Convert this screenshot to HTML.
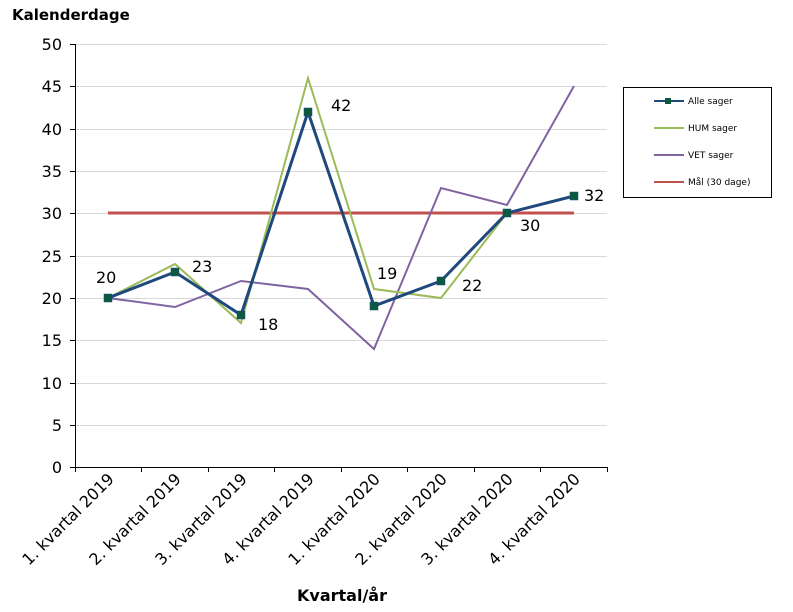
<!DOCTYPE html>
<html><head><meta charset="utf-8"><style>body{margin:0;background:#fff}svg{display:block;font-family:Verdana,"DejaVu Sans",sans-serif}</style></head><body>
<svg width="793" height="612" viewBox="0 0 793 612">
<text x="12" y="20" font-size="15" font-weight="bold" fill="#000">Kalenderdage</text>
<g stroke="#d9d9d9" stroke-width="1">
<line x1="75" x2="607" y1="44.5" y2="44.5"/><line x1="75" x2="607" y1="86.5" y2="86.5"/><line x1="75" x2="607" y1="129.5" y2="129.5"/><line x1="75" x2="607" y1="171.5" y2="171.5"/><line x1="75" x2="607" y1="213.5" y2="213.5"/><line x1="75" x2="607" y1="256.5" y2="256.5"/><line x1="75" x2="607" y1="298.5" y2="298.5"/><line x1="75" x2="607" y1="340.5" y2="340.5"/><line x1="75" x2="607" y1="383.5" y2="383.5"/><line x1="75" x2="607" y1="425.5" y2="425.5"/>
</g>
<g stroke="#000" stroke-width="1">
<line x1="75.5" y1="44" x2="75.5" y2="472"/><line x1="70" y1="467.5" x2="607" y2="467.5"/>
<line x1="70" x2="75" y1="44.5" y2="44.5"/><line x1="70" x2="75" y1="86.5" y2="86.5"/><line x1="70" x2="75" y1="129.5" y2="129.5"/><line x1="70" x2="75" y1="171.5" y2="171.5"/><line x1="70" x2="75" y1="213.5" y2="213.5"/><line x1="70" x2="75" y1="256.5" y2="256.5"/><line x1="70" x2="75" y1="298.5" y2="298.5"/><line x1="70" x2="75" y1="340.5" y2="340.5"/><line x1="70" x2="75" y1="383.5" y2="383.5"/><line x1="70" x2="75" y1="425.5" y2="425.5"/>
<line x1="141.5" x2="141.5" y1="467" y2="472"/><line x1="208.5" x2="208.5" y1="467" y2="472"/><line x1="274.5" x2="274.5" y1="467" y2="472"/><line x1="341.5" x2="341.5" y1="467" y2="472"/><line x1="407.5" x2="407.5" y1="467" y2="472"/><line x1="474.5" x2="474.5" y1="467" y2="472"/><line x1="540.5" x2="540.5" y1="467" y2="472"/><line x1="607.5" x2="607.5" y1="467" y2="472"/>
</g>
<g font-size="16" text-anchor="end" fill="#000">
<text x="62" y="50">50</text><text x="62" y="92">45</text><text x="62" y="135">40</text><text x="62" y="177">35</text><text x="62" y="219">30</text><text x="62" y="262">25</text><text x="62" y="304">20</text><text x="62" y="346">15</text><text x="62" y="389">10</text><text x="62" y="431">5</text><text x="62" y="473">0</text>
</g>
<g font-size="16" text-anchor="end" fill="#000">
<text transform="translate(115,480) rotate(-45)">1. kvartal 2019</text>
<text transform="translate(182,480) rotate(-45)">2. kvartal 2019</text>
<text transform="translate(248,480) rotate(-45)">3. kvartal 2019</text>
<text transform="translate(315,480) rotate(-45)">4. kvartal 2019</text>
<text transform="translate(381,480) rotate(-45)">1. kvartal 2020</text>
<text transform="translate(448,480) rotate(-45)">2. kvartal 2020</text>
<text transform="translate(514,480) rotate(-45)">3. kvartal 2020</text>
<text transform="translate(581,480) rotate(-45)">4. kvartal 2020</text>
</g>
<text x="342" y="601" font-size="16" font-weight="bold" text-anchor="middle">Kvartal/år</text>
<line x1="108" x2="574" y1="213" y2="213" stroke="#c0504d" stroke-width="3"/>
<polyline fill="none" stroke="#8064a2" stroke-width="2" points="108,298 175,307 241,281 308,289 374,349 441,188 507,205 574,86"/>
<polyline fill="none" stroke="#9bbb59" stroke-width="2" points="108,298 175,264 241,323 308,78 374,289 441,298 507,213"/>
<polyline fill="none" stroke="#1f497d" stroke-width="3" points="108,298 175,272 241,315 308,112 374,306 441,281 507,213 574,196"/>
<g fill="#0b5a3f" stroke="#1f497d" stroke-width="0.5">
<rect x="104" y="294" width="8" height="8"/><rect x="171" y="268" width="8" height="8"/><rect x="237" y="311" width="8" height="8"/><rect x="304" y="108" width="8" height="8"/><rect x="370" y="302" width="8" height="8"/><rect x="437" y="277" width="8" height="8"/><rect x="503" y="209" width="8" height="8"/><rect x="570" y="192" width="8" height="8"/>
</g>
<g font-size="16" fill="#000">
<text x="96" y="283">20</text><text x="192" y="272">23</text><text x="258" y="330">18</text><text x="331" y="111">42</text><text x="377" y="279">19</text><text x="462" y="291">22</text><text x="520" y="231">30</text><text x="584" y="201">32</text>
</g>
<rect x="623.5" y="87.5" width="148" height="110" fill="#fff" stroke="#000"/>
<g stroke-width="2"><line x1="654" x2="684" y1="101" y2="101" stroke="#1f497d"/><rect x="665" y="98" width="6" height="6" fill="#0b5a3f"/>
<line x1="654" x2="684" y1="128" y2="128" stroke="#9bbb59"/><line x1="654" x2="684" y1="155" y2="155" stroke="#8064a2"/><line x1="654" x2="684" y1="182" y2="182" stroke="#c0504d"/></g>
<g font-size="9" fill="#000"><text x="688" y="104">Alle sager</text><text x="688" y="131">HUM sager</text><text x="688" y="158">VET sager</text><text x="688" y="185">Mål (30 dage)</text></g>
</svg>
</body></html>
